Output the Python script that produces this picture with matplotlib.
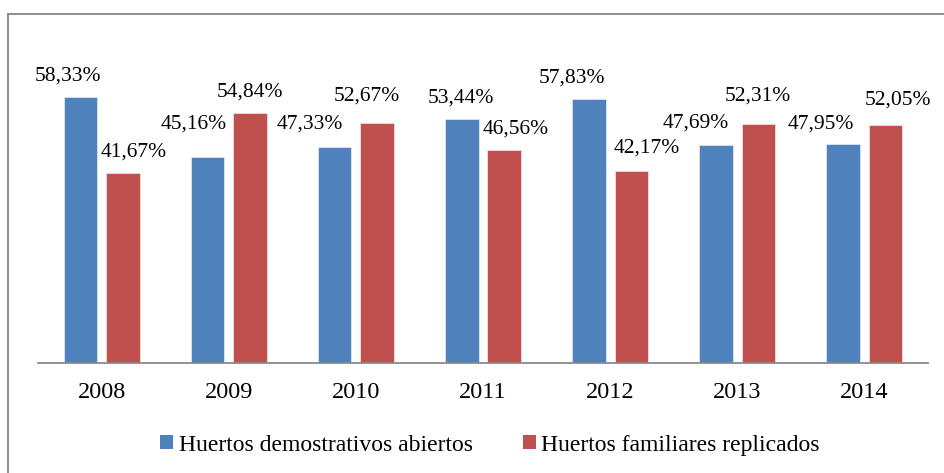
import matplotlib
matplotlib.use("Agg")
import matplotlib.pyplot as plt
from matplotlib.lines import Line2D
from matplotlib.patches import Patch
import numpy as np

plt.rcParams['font.family'] = ['Liberation Serif', 'DejaVu Serif']

years = ["2008", "2009", "2010", "2011", "2012", "2013", "2014"]
abiertos = [58.33, 45.16, 47.33, 53.44, 57.83, 47.69, 47.95]
replicados = [41.67, 54.84, 52.67, 46.56, 42.17, 52.31, 52.05]
series_names = ["Huertos demostrativos abiertos", "Huertos familiares replicados"]

BLUE = "#4F81BD"
RED = "#C0504D"

# label offsets in pixels (dx from bar centre, dy above bar top)
off_blue = [(-12, 21), (-14, 33), (-25, 23), (-1, 21), (-17, 21), (-20, 22), (-22, 20)]
off_red = [(11, 21), (0, 21), (-10, 27), (11, 21), (15, 22), (-1, 28), (12, 25)]

W, H = 945, 473
fig = plt.figure(figsize=(W / 100, H / 100), dpi=100)
ax = fig.add_axes([38 / W, 1 - 363 / H, (928 - 38) / W, (363 - 43.5) / H])

x = np.arange(len(years))
off = 0.167
bw = 0.264
ax.bar(x - off, abiertos, bw, color=BLUE, edgecolor="#dfe6f0", linewidth=0.6)
ax.bar(x + off, replicados, bw, color=RED, edgecolor="#f0dcdc", linewidth=0.6)

def fmt(v):
    return f"{v:.2f}".replace(".", ",") + "%"

for i in range(len(years)):
    for vals, offs, sgn in ((abiertos, off_blue, -1), (replicados, off_red, 1)):
        dx, dy = offs[i]
        ax.annotate(fmt(vals[i]), xy=(x[i] + sgn * off, vals[i]), xytext=(dx, dy),
                    textcoords="offset pixels", ha="center", va="center",
                    fontsize=15.5, color="black")

ax.set_xlim(-0.5, len(years) - 0.5)
ax.set_ylim(0, 70)
ax.set_xticks(x)
ax.set_xticklabels(years, fontsize=17.5)
ax.tick_params(axis="x", length=0, pad=14)
ax.set_yticks([])
for s in ("top", "right", "left"):
    ax.spines[s].set_visible(False)
ax.spines["bottom"].set_color("#8a8a8a")
ax.spines["bottom"].set_linewidth(1.3)

handles = [Patch(facecolor=BLUE, edgecolor="none"), Patch(facecolor=RED, edgecolor="none")]
fig.legend(handles, series_names, loc="center", bbox_to_anchor=(490 / W, 1 - 445 / H),
           ncol=2, frameon=False, fontsize=17, handlelength=0.55, handleheight=0.55,
           handletextpad=0.25, columnspacing=2.1)

# chart border (top and left visible)
fig.add_artist(Line2D([8 / W, 8 / W], [1 - 14 / H, 0], transform=fig.transFigure,
                      color="#8c8c8c", linewidth=1.4))
fig.add_artist(Line2D([8 / W, 1], [1 - 14 / H, 1 - 14 / H], transform=fig.transFigure,
                      color="#8c8c8c", linewidth=1.4))

fig.savefig("out.png", dpi=100, facecolor="white")
